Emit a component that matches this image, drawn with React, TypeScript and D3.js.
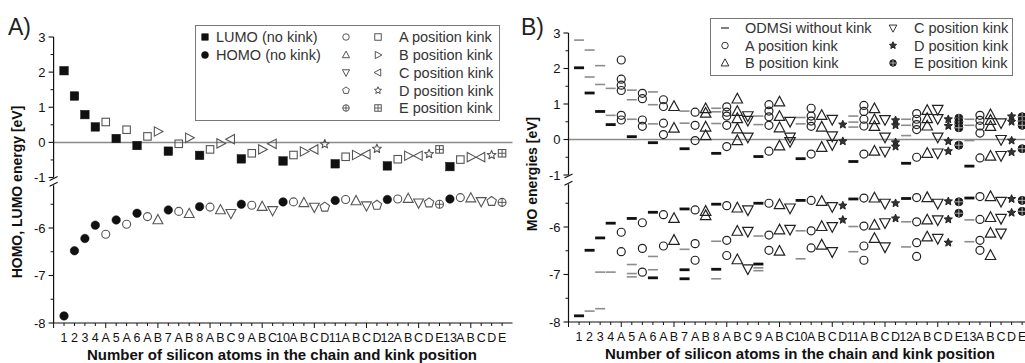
import React from "react";
import * as d3 from "d3";

// ---------- categories (x axis) ----------
const categoryLabels = ["1","2","3","4","A","5","A","6","A","B","7","A","B","8","A","B","C","9","A","B","C","10","A","B","C","D","11","A","B","C","D","12","A","B","C","D","E","13","A","B","C","D","E"];

// ---------- Panel A: HOMO / LUMO energies [eV] ----------
const lumoNoKink = [2.04, 1.32, 0.79, 0.44, 0.11, -0.09, -0.25, -0.37, -0.47, -0.53, -0.61, -0.67, -0.69];
const lumoA = [0.58, 0.36, 0.17, -0.04, -0.2, -0.31, -0.36, -0.41, -0.48, -0.49];
const lumoB = [0.31, 0.13, -0.03, -0.2, -0.26, -0.36, -0.38, -0.42];
const lumoC = [0.09, -0.04, -0.2, -0.34, -0.38, -0.42];
const lumoD = [-0.05, -0.18, -0.33, -0.36];
const lumoE = [-0.2, -0.31];
const homoNoKink = [-7.85, -6.48, -6.22, -5.94, -5.83, -5.69, -5.62, -5.55, -5.5, -5.45, -5.42, -5.4, -5.39];
const homoA = [-6.13, -5.92, -5.76, -5.65, -5.56, -5.52, -5.45, -5.4, -5.39, -5.36];
const homoB = [-5.83, -5.7, -5.62, -5.55, -5.47, -5.43, -5.38, -5.37];
const homoC = [-5.69, -5.63, -5.56, -5.53, -5.47, -5.44];
const homoD = [-5.56, -5.52, -5.47, -5.44];
const homoE = [-5.5, -5.46];

// ---------- Panel B: MO energies [eV] ----------
const moLumoNoKink = [2.02, 1.31, 0.79, 0.42, 0.08, -0.09, -0.26, -0.39, -0.48, -0.54, -0.62, -0.67, -0.75];
const moHomoNoKink = [-7.87, -6.49, -6.23, -5.92, -5.82, -5.69, -5.62, -5.52, -5.5, -5.44, -5.41, -5.4, -5.39];
const moExtraBlackNoKink = [[], [], [], [], [], [-7.07], [-6.9, -7.09], [-6.89], [-6.78], [], [], [], []];
const moOtherNoKink = [
  [2.8],
  [2.52, 1.76, -7.77],
  [2.08, 1.55, -6.95, -7.72],
  [1.44, 0.68, -6.95],
  [1.39, 1.12, 0.57, -6.79, -6.98, -7.05],
  [1.34, 0.98, 0.44, -6.62, -6.9],
  [0.8, 0.46, -6.47],
  [0.88, 0.78, 0.45, -6.3, -7.09],
  [0.66, 0.42, -6.19, -6.86, -6.92],
  [0.62, 0.44, -6.08, -6.67],
  [0.66, 0.49, 0.35, -5.99, -6.52],
  [0.57, 0.4, 0.11, -5.89, -6.42],
  [0.57, 0.4, -0.03, -5.85, -6.31],
];
const moKinkA = [
  [2.24, 1.7, 1.53, 1.38, 0.68, 0.55, -6.11, -6.52],
  [1.3, 1.15, 0.55, 0.37, -5.91, -6.45, -6.95],
  [1.12, 0.93, 0.46, 0.14, -5.74, -6.4],
  [0.77, 0.4, -0.03, -5.64, -6.35, -6.7],
  [0.92, 0.77, 0.66, 0.4, -0.2, -5.55, -6.28, -6.6],
  [0.98, 0.8, 0.64, 0.4, -0.33, -5.5, -6.17, -6.49],
  [0.88, 0.66, 0.52, 0.37, -0.41, -5.44, -6.08, -6.44],
  [0.96, 0.79, 0.57, 0.38, -0.41, -5.39, -5.98, -6.4, -6.7],
  [0.73, 0.57, 0.42, 0.28, -0.5, -5.38, -5.89, -6.33, -6.62],
  [0.68, 0.54, 0.38, 0.18, -0.52, -5.36, -5.84, -6.28, -6.49],
];
const moKinkB = [
  [0.93, 0.32, -5.82, -6.28],
  [0.87, 0.74, 0.35, 0.11, -5.67, -5.76],
  [1.14, 0.79, 0.59, 0.3, -0.03, -5.6, -6.09, -6.69],
  [1.06, 0.65, 0.33, -0.18, -5.53, -6.06, -6.51],
  [0.68, 0.35, -0.22, -5.46, -5.99, -6.38],
  [0.87, 0.56, 0.37, -0.33, -5.39, -5.96, -6.24],
  [0.82, 0.59, 0.38, -0.39, -5.38, -5.85, -6.21],
  [0.7, 0.54, 0.37, -0.47, -5.36, -5.8, -6.13, -6.6],
];
const moKinkC = [
  [0.67, 0.54, 0.07, -5.64, -6.09, -6.88],
  [0.51, 0.07, -0.06, -5.6, -6.05],
  [0.57, 0.1, -0.14, -5.57, -5.99, -6.52],
  [0.56, 0.07, -0.33, -5.5, -5.91, -6.42],
  [0.85, 0.59, 0.07, -0.38, -5.5, -5.85, -6.24],
  [0.47, 0.0, -0.45, -5.46, -5.82, -6.13],
];
const moKinkD = [
  [0.42, -0.05, -5.55, -5.85],
  [0.54, 0.4, -0.08, -0.2, -5.5, -5.82],
  [0.57, 0.38, -0.05, -0.33, -5.46, -5.84, -6.33],
  [0.65, 0.5, -0.03, -0.36, -5.41, -5.7],
];
const moKinkE = [
  [0.6, 0.5, 0.42, 0.33, -0.16, -5.47, -5.71],
  [0.64, 0.52, 0.4, -0.26, -5.44, -5.67],
];

// ---------- axis ticks ----------
const upperMajor = [-1, 0, 1, 2, 3];
const upperMinor = [-0.5, 0.5, 1.5, 2.5];
const lowerMajor = [-8, -7, -6];
const lowerMinor = [-7.5, -6.5, -5.5];

const FONT = "'Liberation Sans', Arial, Helvetica, sans-serif";

const posOf = (pred: (s: string) => boolean) =>
  categoryLabels.map((l, i) => (pred(l) ? i + 1 : -1)).filter((v) => v > 0);
const noKinkPos = posOf((l) => /^\d+$/.test(l));
const kinkPos = (k: string) => posOf((l) => l === k);

type Kind = "square" | "circle" | "up" | "down" | "left" | "right" | "pent" | "star" | "circPlus" | "sqPlus";

function starPath(cx: number, cy: number, R: number) {
  const pts: string[] = [];
  for (let i = 0; i < 10; i++) {
    const r = i % 2 === 0 ? R : R * 0.45;
    const a = -Math.PI / 2 + (i * Math.PI) / 5;
    pts.push(`${cx + r * Math.cos(a)},${cy + r * Math.sin(a)}`);
  }
  return "M" + pts.join("L") + "Z";
}

function Marker(props: { kind: Kind; x: number; y: number; s: number; fill: string; stroke: string; sw?: number; lineColor?: string }) {
  const { kind, x, y, s, fill, stroke } = props;
  const sw = props.sw ?? 1;
  const h = s / 2;
  const common = { fill, stroke, strokeWidth: sw };
  const poly = (pts: number[][]) => (
    <path d={"M" + pts.map((p) => `${x + p[0] * s},${y + p[1] * s}`).join("L") + "Z"} {...common} />
  );
  switch (kind) {
    case "square":
      return <rect x={x - h} y={y - h} width={s} height={s} {...common} />;
    case "circle":
      return <circle cx={x} cy={y} r={h} {...common} />;
    case "up":
      return poly([[0, -0.6], [0.55, 0.42], [-0.55, 0.42]]);
    case "down":
      return poly([[0, 0.6], [0.55, -0.42], [-0.55, -0.42]]);
    case "right":
      return poly([[0.6, 0], [-0.42, -0.55], [-0.42, 0.55]]);
    case "left":
      return poly([[-0.6, 0], [0.42, -0.55], [0.42, 0.55]]);
    case "pent": {
      const pts = d3.range(5).map((k) => {
        const a = -Math.PI / 2 + (k * 2 * Math.PI) / 5;
        return [0.55 * Math.cos(a), 0.55 * Math.sin(a)];
      });
      return poly(pts);
    }
    case "star":
      return <path d={starPath(x, y, h * 1.15)} {...common} strokeLinejoin="round" />;
    case "circPlus":
      return (
        <g>
          <circle cx={x} cy={y} r={h} {...common} />
          <line x1={x - h} x2={x + h} y1={y} y2={y} stroke={props.lineColor ?? stroke} strokeWidth={sw * 0.9} />
          <line x1={x} x2={x} y1={y - h} y2={y + h} stroke={props.lineColor ?? stroke} strokeWidth={sw * 0.9} />
        </g>
      );
    case "sqPlus":
      return (
        <g>
          <rect x={x - h} y={y - h} width={s} height={s} {...common} />
          <line x1={x - h} x2={x + h} y1={y} y2={y} stroke={stroke} strokeWidth={sw * 0.9} />
          <line x1={x} x2={x} y1={y - h} y2={y + h} stroke={stroke} strokeWidth={sw * 0.9} />
        </g>
      );
  }
  return null;
}

type PanelGeom = {
  x: d3.ScaleLinear<number, number>;
  yU: d3.ScaleLinear<number, number>;
  yL: d3.ScaleLinear<number, number>;
  lowerTop: number;
};

const yOf = (g: PanelGeom, v: number) => (v >= -1.5 ? g.yU(v) : g.yL(v));

function Axes({ g, yTitle, xTitleX, yTitleY }: { g: PanelGeom; yTitle: string; xTitleX: number; yTitleY: number }) {
  const x0 = g.x(0);
  const xEnd = g.x(44);
  const yBottom = g.yL(-8);
  const brk1 = g.yU(-1);
  const brk2 = g.yL(g.lowerTop);
  const xTicks = d3.range(0, 44);
  return (
    <g fontFamily={FONT} fill="#111">
      {/* zero line */}
      <line x1={x0} x2={xEnd} y1={g.yU(0)} y2={g.yU(0)} stroke="#8a8a8a" strokeWidth={1.5} />
      {/* y axis segments */}
      <line x1={x0} x2={x0} y1={g.yU(3)} y2={brk1} stroke="#111" strokeWidth={1.2} />
      <line x1={x0} x2={x0} y1={brk2} y2={yBottom} stroke="#111" strokeWidth={1.2} />
      <line x1={x0 - 4} x2={x0 + 4} y1={brk1 + 3} y2={brk1 - 1} stroke="#111" strokeWidth={1.1} />
      <line x1={x0 - 4} x2={x0 + 4} y1={brk2 + 1} y2={brk2 - 3} stroke="#111" strokeWidth={1.1} />
      {upperMajor.map((t) => (
        <g key={"um" + t}>
          <line x1={x0 - 5} x2={x0} y1={g.yU(t)} y2={g.yU(t)} stroke="#111" strokeWidth={1.1} />
          <text x={x0 - 8} y={g.yU(t) + 4.5} textAnchor="end" fontSize={13}>{t < 0 ? "-" + Math.abs(t) : t}</text>
        </g>
      ))}
      {upperMinor.map((t) => (
        <line key={"un" + t} x1={x0 - 3} x2={x0} y1={g.yU(t)} y2={g.yU(t)} stroke="#111" strokeWidth={1} />
      ))}
      {lowerMajor.map((t) => (
        <g key={"lm" + t}>
          <line x1={x0 - 5} x2={x0} y1={g.yL(t)} y2={g.yL(t)} stroke="#111" strokeWidth={1.1} />
          <text x={x0 - 8} y={g.yL(t) + 4.5} textAnchor="end" fontSize={13}>{"-" + Math.abs(t)}</text>
        </g>
      ))}
      {lowerMinor.map((t) => (
        <line key={"ln" + t} x1={x0 - 3} x2={x0} y1={g.yL(t)} y2={g.yL(t)} stroke="#111" strokeWidth={1} />
      ))}
      {/* x axis */}
      <line x1={x0} x2={xEnd} y1={yBottom} y2={yBottom} stroke="#111" strokeWidth={1.2} />
      {xTicks.map((t) => (
        <line key={"xt" + t} x1={g.x(t)} x2={g.x(t)} y1={yBottom} y2={yBottom + (t % 5 === 0 ? 5 : 3)} stroke="#111" strokeWidth={1} />
      ))}
      {categoryLabels.map((l, i) => (
        <text key={"xl" + i} x={g.x(i + 1)} y={yBottom + 19} textAnchor="middle" fontSize={12.5}>{l}</text>
      ))}
      <text x={xTitleX} y={yBottom + 37} textAnchor="middle" fontSize={15} fontWeight="bold">
        Number of silicon atoms in the chain and kink position
      </text>
      <text transform={`translate(${x0 - 32},${yTitleY}) rotate(-90)`} textAnchor="middle" fontSize={14} fontWeight="bold">
        {yTitle}
      </text>
    </g>
  );
}

export default function App() {
  const gA: PanelGeom = {
    x: d3.scaleLinear().domain([0, 44]).range([53.6, 512.5]),
    yU: d3.scaleLinear().domain([-1, 3]).range([177.5, 37]),
    yL: d3.scaleLinear().domain([-8, -6]).range([323, 228]),
    lowerTop: -5.1,
  };
  const gB: PanelGeom = {
    x: d3.scaleLinear().domain([0, 44]).range([568.5, 1032.7]),
    yU: d3.scaleLinear().domain([-1, 3]).range([175, 33]),
    yL: d3.scaleLinear().domain([-8, -6]).range([322, 227]),
    lowerTop: -5.1,
  };

  const gray = "#555";
  const seriesA: { pos: number[]; vals: number[]; kind: Kind; filled: boolean; s: number }[] = [
    { pos: noKinkPos, vals: lumoNoKink, kind: "square", filled: true, s: 8.5 },
    { pos: noKinkPos, vals: homoNoKink, kind: "circle", filled: true, s: 8.5 },
    { pos: kinkPos("A"), vals: lumoA, kind: "square", filled: false, s: 7.5 },
    { pos: kinkPos("B"), vals: lumoB, kind: "right", filled: false, s: 8.5 },
    { pos: kinkPos("C"), vals: lumoC, kind: "left", filled: false, s: 8.5 },
    { pos: kinkPos("D"), vals: lumoD, kind: "star", filled: false, s: 8 },
    { pos: kinkPos("E"), vals: lumoE, kind: "sqPlus", filled: false, s: 7.5 },
    { pos: kinkPos("A"), vals: homoA, kind: "circle", filled: false, s: 8 },
    { pos: kinkPos("B"), vals: homoB, kind: "up", filled: false, s: 9 },
    { pos: kinkPos("C"), vals: homoC, kind: "down", filled: false, s: 9 },
    { pos: kinkPos("D"), vals: homoD, kind: "pent", filled: false, s: 9 },
    { pos: kinkPos("E"), vals: homoE, kind: "circPlus", filled: false, s: 8 },
  ];

  const kinkB: { pos: number[]; levels: number[][]; kind: Kind }[] = [
    { pos: kinkPos("A"), levels: moKinkA, kind: "circle" },
    { pos: kinkPos("B"), levels: moKinkB, kind: "up" },
    { pos: kinkPos("C"), levels: moKinkC, kind: "down" },
    { pos: kinkPos("D"), levels: moKinkD, kind: "star" },
    { pos: kinkPos("E"), levels: moKinkE, kind: "circPlus" },
  ];

  const bStyle = (kind: Kind) => {
    if (kind === "star") return { fill: "#333", stroke: "#222", s: 7.5, sw: 1, lineColor: undefined };
    if (kind === "circPlus") return { fill: "#1a1a1a", stroke: "#1a1a1a", s: 8, sw: 1, lineColor: "#bbb" };
    if (kind === "circle") return { fill: "none", stroke: "#222", s: 8, sw: 1.2, lineColor: undefined };
    return { fill: "none", stroke: "#222", s: 9.5, sw: 1.2, lineColor: undefined };
  };

  const legendAItems: [Kind, Kind, string][] = [
    ["circle", "square", "A position kink"],
    ["up", "right", "B position kink"],
    ["down", "left", "C position kink"],
    ["pent", "star", "D position kink"],
    ["circPlus", "sqPlus", "E position kink"],
  ];
  const legendAY = [37, 55, 72.5, 90.5, 108];

  return (
    <svg width={1025} height={363} style={{ position: "absolute", left: 0, top: 0, background: "#fff" }} fontFamily={FONT}>
      <rect width={1025} height={363} fill="#fff" />
      {/* ===== Panel A ===== */}
      <text x={8} y={35} fontSize={23} fill="#222">A)</text>
      <Axes g={gA} yTitle="HOMO, LUMO energy [eV]" xTitleX={282} yTitleY={192} />
      {seriesA.map((s, si) =>
        s.vals.map((v, i) => (
          <Marker
            key={`a${si}-${i}`}
            kind={s.kind}
            x={gA.x(s.pos[i])}
            y={yOf(gA, v)}
            s={s.s}
            fill={s.filled ? "#111" : "none"}
            stroke={s.filled ? "#111" : gray}
            sw={s.filled ? 0.5 : 1.1}
          />
        ))
      )}
      {/* Legend A */}
      <rect x={195.5} y={25.5} width={304} height={95} fill="#fff" stroke="#777" strokeWidth={1} />
      <Marker kind="square" x={205} y={legendAY[0]} s={6.5} fill="#111" stroke="#111" sw={0.5} />
      <Marker kind="circle" x={205} y={legendAY[1]} s={7} fill="#111" stroke="#111" sw={0.5} />
      <text x={216} y={legendAY[0] + 5} fontSize={14.5} fill="#333">LUMO (no kink)</text>
      <text x={216} y={legendAY[1] + 5} fontSize={14.5} fill="#333">HOMO (no kink)</text>
      {legendAItems.map((it, i) => (
        <g key={"la" + i}>
          <Marker kind={it[0]} x={346} y={legendAY[i]} s={6.5} fill="none" stroke={gray} sw={1} />
          <Marker kind={it[1]} x={378} y={legendAY[i]} s={6.5} fill="none" stroke={gray} sw={1} />
          <text x={399} y={legendAY[i] + 5} fontSize={14.5} fill="#333">{it[2]}</text>
        </g>
      ))}

      {/* ===== Panel B ===== */}
      <text x={521} y={35} fontSize={23} fill="#222">B)</text>
      <Axes g={gB} yTitle="MO energies [eV]" xTitleX={800} yTitleY={174} />
      {/* no-kink dashes */}
      {noKinkPos.map((p, i) => {
        const cx = gB.x(p);
        const grayLv = moOtherNoKink[i] ?? [];
        const blackLv = [moLumoNoKink[i], moHomoNoKink[i], ...(moExtraBlackNoKink[i] ?? [])];
        return (
          <g key={"nk" + i}>
            {grayLv.map((v, j) => (
              <line key={"g" + j} x1={cx - 5} x2={cx + 5} y1={yOf(gB, v)} y2={yOf(gB, v)} stroke="#8c8c8c" strokeWidth={1.6} />
            ))}
            {blackLv.map((v, j) => (
              <line key={"b" + j} x1={cx - 5} x2={cx + 5} y1={yOf(gB, v)} y2={yOf(gB, v)} stroke="#111" strokeWidth={2.8} />
            ))}
          </g>
        );
      })}
      {kinkB.map((k, ki) =>
        k.levels.map((lv, gi) =>
          lv.map((v, j) => {
            const st = bStyle(k.kind);
            return (
              <Marker
                key={`b${ki}-${gi}-${j}`}
                kind={k.kind}
                x={gB.x(k.pos[gi])}
                y={yOf(gB, v)}
                s={st.s}
                fill={st.fill}
                stroke={st.stroke}
                sw={st.sw}
                lineColor={st.lineColor}
              />
            );
          })
        )
      )}
      {/* Legend B */}
      <rect x={710.5} y={18.5} width={302} height={57} fill="#fff" stroke="#777" strokeWidth={1} />
      <line x1={721} x2={729} y1={28} y2={28} stroke="#555" strokeWidth={1.5} />
      <Marker kind="circle" x={725} y={45.5} s={6.5} fill="none" stroke="#333" sw={1} />
      <Marker kind="up" x={725} y={63} s={7} fill="none" stroke="#333" sw={1} />
      <text x={745} y={33} fontSize={14.5} fill="#333">ODMSi without kink</text>
      <text x={745} y={50.5} fontSize={14.5} fill="#333">A position kink</text>
      <text x={745} y={68} fontSize={14.5} fill="#333">B position kink</text>
      <Marker kind="down" x={893} y={28} s={7} fill="none" stroke="#333" sw={1} />
      <Marker kind="star" x={893} y={45.5} s={6.5} fill="#333" stroke="#222" sw={1} />
      <Marker kind="circPlus" x={893} y={63} s={6.5} fill="#1a1a1a" stroke="#1a1a1a" sw={1} lineColor="#bbb" />
      <text x={914} y={33} fontSize={14.5} fill="#333">C position kink</text>
      <text x={914} y={50.5} fontSize={14.5} fill="#333">D position kink</text>
      <text x={914} y={68} fontSize={14.5} fill="#333">E position kink</text>
    </svg>
  );
}
